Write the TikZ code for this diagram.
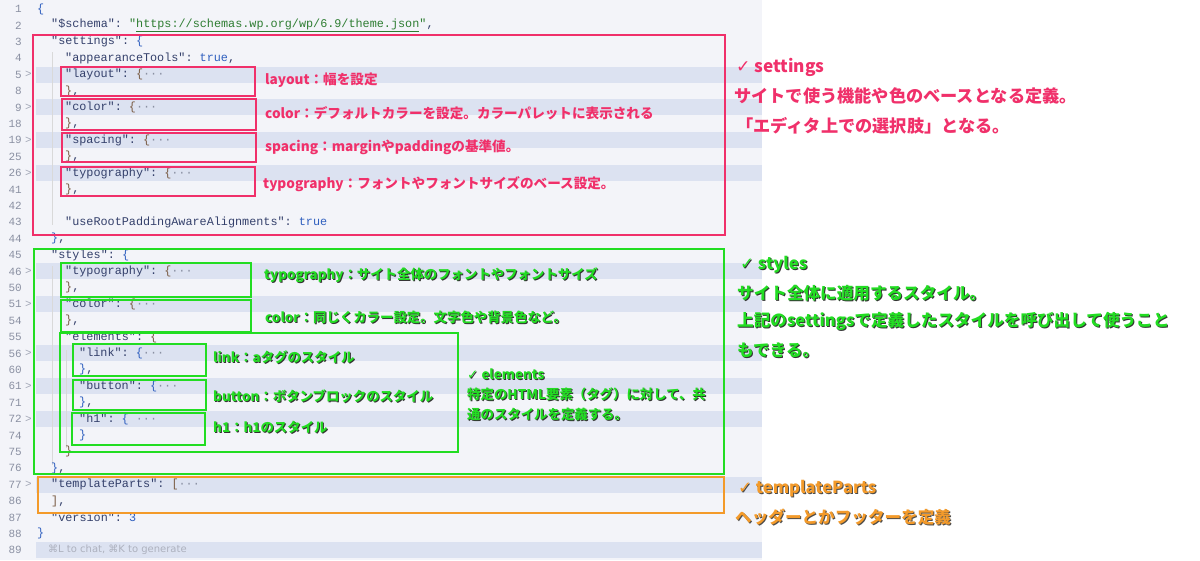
\documentclass[tikz,border=0pt]{standalone}
\usepackage{fontspec}
\setmonofont{Liberation Mono}
\newfontfamily\jpx{Noto Sans CJK JP}
\newcommand\jp{\jpx\bfseries}
\newfontfamily\djv{DejaVu Sans}
\definecolor{edbg}{HTML}{F3F4F9}
\definecolor{fold}{HTML}{DCE2F1}
\definecolor{pinkc}{HTML}{F0306A}
\definecolor{greenc}{HTML}{22DD22}
\definecolor{orangec}{HTML}{F39A2A}
\definecolor{keyc}{HTML}{34406B}
\definecolor{punc}{HTML}{7A5C44}
\definecolor{truec}{HTML}{2F5FBF}
\definecolor{strc}{HTML}{2E7D32}
\definecolor{numc}{HTML}{8A90A2}
\newcommand\Kc[1]{\textcolor{keyc}{#1}}
\newcommand\Pc[1]{\textcolor{punc}{#1}}
\newcommand\Tc[1]{\textcolor{truec}{#1}}
\newcommand\Ec{\textcolor{numc}{···}}
\tikzset{
 code/.style={anchor=west,inner sep=0pt,font=\ttfamily\fontsize{11.8}{12}\selectfont,text=keyc},
 lnum/.style={anchor=east,inner sep=0pt,font=\ttfamily\fontsize{11}{12}\selectfont,text=numc},
 pbox/.style={draw=pinkc,line width=2.2pt},
 gbox/.style={draw=greenc,line width=2.2pt},
 obox/.style={draw=orangec,line width=2pt},
 plab/.style={anchor=west,inner sep=0pt,font=\jp\fontsize{13.6}{15}\selectfont,text=pinkc},
 glab/.style={anchor=west,inner sep=0pt,font=\jp\fontsize{13.4}{15}\selectfont,text=greenc},
 gsh/.style={anchor=west,inner sep=0pt,font=\jp\fontsize{13.4}{15}\selectfont,text=black!80},
 ptitle/.style={anchor=west,inner sep=0pt,font=\jp\fontsize{17.2}{18}\selectfont,text=pinkc},
 gtitle/.style={anchor=west,inner sep=0pt,font=\jp\fontsize{16.6}{18}\selectfont,text=greenc},
 gtsh/.style={anchor=west,inner sep=0pt,font=\jp\fontsize{16.6}{18}\selectfont,text=black!80},
 otitle/.style={anchor=west,inner sep=0pt,font=\jp\fontsize{16.6}{18}\selectfont,text=orangec},
 otsh/.style={anchor=west,inner sep=0pt,font=\jp\fontsize{16.6}{18}\selectfont,text=black!70},
}
\begin{document}
\begin{tikzpicture}[x=1pt,y=-1pt]
\useasboundingbox (0,0) rectangle (1200,560);
\fill[white] (0,0) rectangle (1200,560);
\fill[edbg] (0,0) rectangle (762,560);
% folded-row highlights
\foreach \k in {4,6,8,10,16,18,21,23,25,29,33}{
  \fill[fold] (36,{9+16.4*\k-8}) rectangle (762,{9+16.4*\k+8});
}
% line numbers
\foreach \n [count=\i from 0] in {1,2,3,4,5,8,9,18,19,25,26,41,42,43,44,45,46,50,51,54,55,56,60,61,71,72,74,75,76,77,86,87,88,89}{
  \node[lnum] (ln\i) at (22,{9+16.4*\i}) {\n};
}
\foreach \k in {4,6,8,10,16,18,21,23,25,29}{
  \node[lnum,text=numc!80] (fa\k) at (32,{9+16.4*\k}) {>};
}
% indent guides
\draw[black!15] (52,52) -- (52,225);
\draw[black!15] (52,266) -- (52,465);
\draw[black!15] (66,350) -- (66,448);
% code
\node[code] (c0) at (37,9) {\textcolor{truec}{\{}};
\node[code] (c1) at (51,25.4) {\Kc{"\$schema"}: \textcolor{strc}{"\underline{https://schemas.wp.org/wp/6.9/theme.json}"},};
\node[code] (c2) at (51,41.8) {\Kc{"settings"}: \Tc{\{}};
\node[code] (c3) at (65,58.2) {\Kc{"appearanceTools"}: \Tc{true},};
\node[code] (c4) at (65,74.6) {\Kc{"layout"}: \Pc{\{}\Ec};
\node[code] (c5) at (65,91) {\Pc{\}},};
\node[code] (c6) at (65,107.4) {\Kc{"color"}: \Pc{\{}\Ec};
\node[code] (c7) at (65,123.8) {\Pc{\}},};
\node[code] (c8) at (65,140.2) {\Kc{"spacing"}: \Pc{\{}\Ec};
\node[code] (c9) at (65,156.6) {\Pc{\}},};
\node[code] (c10) at (65,173) {\Kc{"typography"}: \Pc{\{}\Ec};
\node[code] (c11) at (65,189.4) {\Pc{\}},};
\node[code] (c13) at (65,222.2) {\Kc{"useRootPaddingAwareAlignments"}: \Tc{true}};
\node[code] (c14) at (51,238.6) {\Tc{\}},};
\node[code] (c15) at (51,255) {\Kc{"styles"}: \Tc{\{}};
\node[code] (c16) at (65,271.4) {\Kc{"typography"}: \Pc{\{}\Ec};
\node[code] (c17) at (65,287.8) {\Pc{\}},};
\node[code] (c18) at (65,304.2) {\Kc{"color"}: \Pc{\{}\Ec};
\node[code] (c19) at (65,320.6) {\Pc{\}},};
\node[code] (c20) at (65,337) {\Kc{"elements"}: \Pc{\{}};
\node[code] (c21) at (79,353.4) {\Kc{"link"}: \Tc{\{}\Ec};
\node[code] (c22) at (79,369.8) {\Tc{\}},};
\node[code] (c23) at (79,386.2) {\Kc{"button"}: \Tc{\{}\Ec};
\node[code] (c24) at (79,402.6) {\Tc{\}},};
\node[code] (c25) at (79,419) {\Kc{"h1"}: \Tc{\{} \Ec};
\node[code] (c26) at (79,435.4) {\Tc{\}}};
\node[code] (c27) at (65,451.8) {\Pc{\}}};
\node[code] (c28) at (51,468.2) {\Tc{\}},};
\node[code] (c29) at (51,484.6) {\Kc{"templateParts"}: \Pc{[}\Ec};
\node[code] (c30) at (51,501) {\Pc{]},};
\node[code] (c31) at (51,517.4) {\Kc{"version"}: \Tc{3}};
\node[code] (c32) at (37,533.8) {\Tc{\}}};
\node[anchor=west,inner sep=0pt,font=\djv\fontsize{10}{12}\selectfont,text=numc!70] (c33) at (48,550.2) {⌘L to chat, ⌘K to generate};
% pink boxes
\draw[pbox] (33,35) rectangle (725,235);
\draw[pbox] (61,67) rectangle (255,96);
\draw[pbox] (62,99) rectangle (256,130);
\draw[pbox] (62,133) rectangle (256,162);
\draw[pbox] (61,167) rectangle (255,196);
% green boxes
\draw[gbox] (34,249) rectangle (724,474);
\draw[gbox] (61,263) rectangle (251,297);
\draw[gbox] (61,300) rectangle (251,332);
\draw[gbox] (60,333) rectangle (458,452);
\draw[gbox] (73,344) rectangle (206,376);
\draw[gbox] (73,380) rectangle (206,410);
\draw[gbox] (72,413) rectangle (205,445);
% orange box
\draw[obox] (38,477) rectangle (724,513);
% pink labels
\node[plab] (l1) at (265,80) {layout：幅を設定};
\node[plab] (l2) at (265,113) {color：デフォルトカラーを設定。カラーパレットに表示される};
\node[plab] (l3) at (265,147) {spacing：marginやpaddingの基準値。};
\node[plab] (l4) at (263,184) {typography：フォントやフォントサイズのベース設定。};
\node[ptitle] (t1) at (736,67) {{\djv ✓} settings};
\node[ptitle] (t1a) at (734,96) {サイトで使う機能や色のベースとなる定義。};
\node[ptitle] (t1b) at (736,126) {「エディタ上での選択肢」となる。};
% green labels (shadow + text)
\foreach \nm/\xx/\yy/\tx in {g1/264/275/{typography：サイト全体のフォントやフォントサイズ},
 g2/265/317/{color：同じくカラー設定。文字色や背景色など。},
 g3/213/357/{link：aタグのスタイル},
 g4/213/396/{button：ボタンブロックのスタイル},
 g5/213/427/{h1：h1のスタイル},
 g6/467/374/{{\djv ✓} elements},
 g7/467/394/{特定のHTML要素（タグ）に対して、共},
 g8/467/414/{通のスタイルを定義する。}}{
  \node[gsh] (\nm s) at (\xx+1,\yy+1) {\tx};
  \node[glab] (\nm) at (\xx,\yy) {\tx};
}
\foreach \nm/\xx/\yy/\tx in {s1/740/265/{{\djv ✓} styles},
 s2/737/293/{サイト全体に適用するスタイル。},
 s3/737/321/{上記のsettingsで定義したスタイルを呼び出して使うこと},
 s4/737/350/{もできる。}}{
  \node[gtsh] (\nm s) at (\xx+1,\yy+1) {\tx};
  \node[gtitle] (\nm) at (\xx,\yy) {\tx};
}
\foreach \nm/\xx/\yy/\tx in {o1/738/489/{{\djv ✓} templateParts},
 o2/735/517/{ヘッダーとかフッターを定義}}{
  \node[otsh] (\nm s) at (\xx+1,\yy+1) {\tx};
  \node[otitle] (\nm) at (\xx,\yy) {\tx};
}
\end{tikzpicture}
\end{document}
